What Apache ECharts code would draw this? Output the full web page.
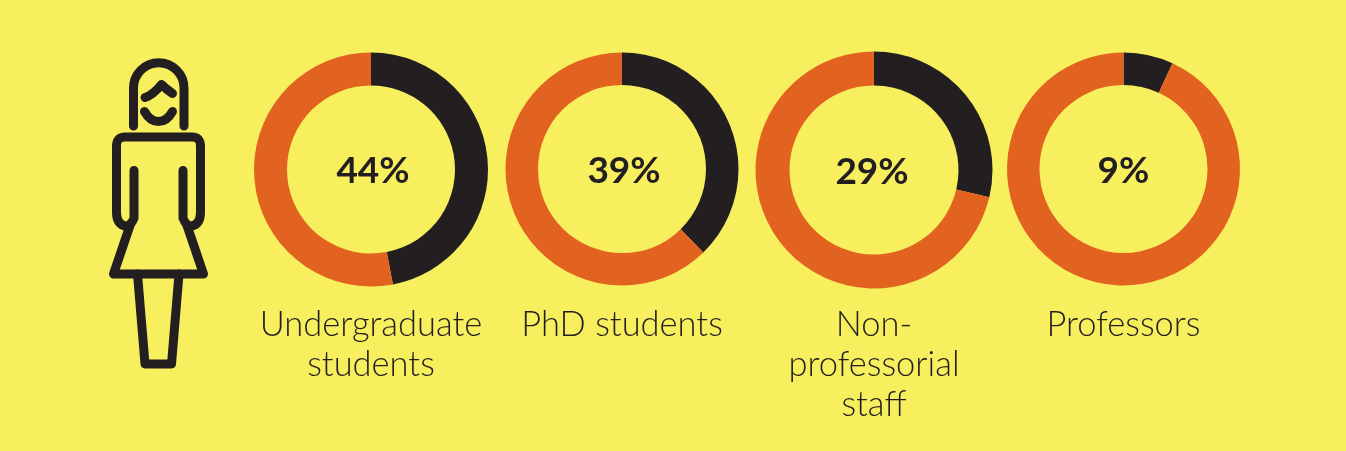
<!DOCTYPE html>
<html>
<head>
<meta charset="utf-8">
<title>Women share</title>
<style>
  html, body { margin: 0; padding: 0; background: #f7ef5e; }
  #chart { width: 1346px; height: 451px; }
</style>
<script src="https://cdn.jsdelivr.net/npm/echarts@6/dist/echarts.min.js"></script>
</head>
<body>
<div id="chart"></div>
<script>
const categories = ['Undergraduate\nstudents', 'PhD students', 'Non-\nprofessorial\nstaff', 'Professors']
const percentLabels = ['44%', '39%', '29%', '9%']
// slice sizes as drawn in the picture, they differ a bit from the printed labels
const womenShare = [47, 37.7, 28.7, 6.9]
const otherShare = [53, 62.3, 71.3, 93.1]

const centersX = [371, 622, 874, 1123.5]
const centersY = [169.5, 169, 170, 169]
const outerRadius = [117, 116.5, 118.5, 116.5]
const innerRadius = [84, 84, 84.5, 84]
const percentShiftX = [2, 2, -2, 0]

const BLACK = '#231f20'
const ORANGE = '#e2631f'
const BG = '#f7ef5e'

const series = categories.map((name, i) => ({
  name: name,
  type: 'pie',
  silent: true,
  animation: false,
  startAngle: 90,
  clockwise: true,
  center: [centersX[i], centersY[i]],
  radius: [innerRadius[i], outerRadius[i]],
  labelLine: { show: false },
  emphasis: { disabled: true },
  data: [
    {
      name: 'share',
      value: womenShare[i],
      itemStyle: { color: BLACK },
      label: {
        show: true,
        position: 'center',
        offset: [percentShiftX[i], 2],
        formatter: percentLabels[i],
        color: BLACK,
        fontFamily: 'Lato',
        fontWeight: 700,
        fontSize: 37
      }
    },
    {
      name: 'rest',
      value: otherShare[i],
      itemStyle: { color: ORANGE },
      label: { show: false }
    }
  ]
}))

const captions = categories.map((name, i) => ({
  text: name,
  left: centersX[i],
  top: 305,
  textAlign: 'center',
  padding: 0,
  textStyle: {
    color: BLACK,
    fontFamily: 'Lato',
    fontWeight: 300,
    fontSize: 34.5,
    lineHeight: 40
  }
}))

// the figure on the left
const stroke = { fill: 'none', stroke: BLACK, lineWidth: 9, lineCap: 'round', lineJoin: 'round' }
const figurePaths = [
  'M133.5 126 L133.5 88 A25.25 25.25 0 0 1 184 88 L184 126',
  'M145 97.5 Q153 95 161.5 84.5 Q166 89 172.5 93.5',
  'M144.5 111.5 Q150 121.5 158.5 121.5 Q167 121.5 172.5 111.5',
  'M134 170.5 L134 218 Q131 226.5 125 226 Q116.5 224 116.5 212 L116.5 146 Q116.5 137 125 137 L192 137 Q200.5 137 200.5 146 L200.5 212 Q200.5 224 192 226 Q186 226.5 183 218 L183 170.5',
  'M130.5 224 L113.5 274 L203.5 274 L186.5 224',
  'M137.5 274 L145 364 L171.5 364 L179 274'
]

series.push({
  type: 'custom',
  coordinateSystem: 'none',
  silent: true,
  animation: false,
  data: [0],
  renderItem: () => ({
    type: 'group',
    children: figurePaths.map(p => ({
      type: 'path',
      shape: { pathData: p },
      style: stroke
    }))
  })
})

const chart = echarts.init(document.getElementById('chart'))
chart.setOption({
  backgroundColor: BG,
  animation: false,
  title: captions,
  tooltip: { show: false },
  legend: { show: false },
  series: series
})
</script>
</body>
</html>
